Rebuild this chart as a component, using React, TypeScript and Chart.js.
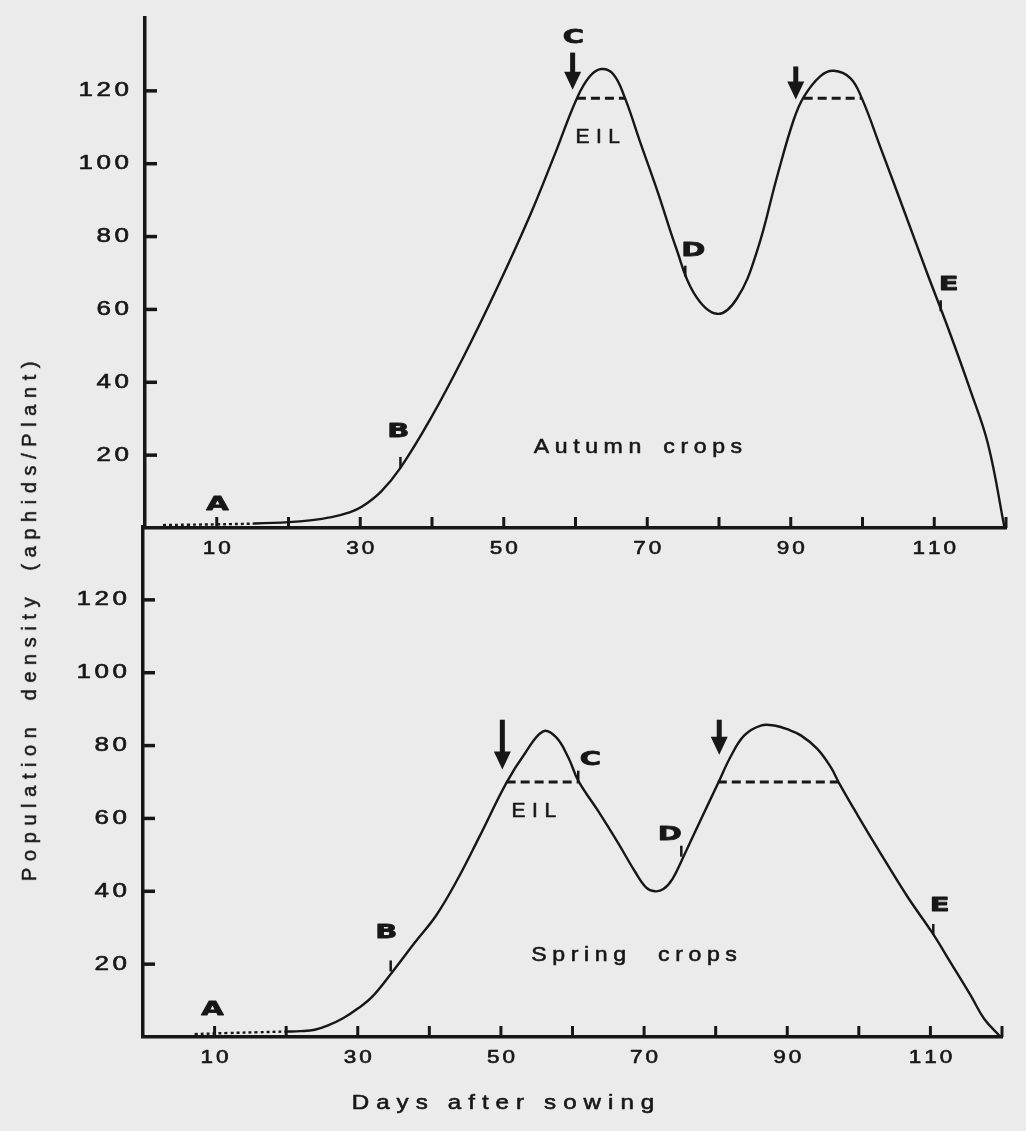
import React, { useEffect, useRef } from "react";
import { Chart, registerables } from "chart.js";

Chart.register(...registerables);

// ---------- data ----------
const X_TICK_MARKS = [10, 20, 30, 40, 50, 60, 70, 80, 90, 100, 110, 120];
const X_TICK_LABELS = [10, 30, 50, 70, 90, 110];
const Y_TICK_LABELS = [20, 40, 60, 80, 100, 120];

const AUTUMN_DAYS = [2.5, 6, 10, 15, 20, 23, 26, 28.5, 30.2, 32.9, 35.6, 39.8, 44.4, 49.1, 53.7, 57, 60.2, 62, 63.6, 65.3, 66.9, 69, 71.5, 74, 76.5, 79.7, 82.5, 85.3, 88.1, 90.4, 91.8, 94.1, 96, 98.3, 99.9, 102.5, 106, 109, 112, 115, 117.5, 119.8];
const AUTUMN_APHIDS = [0.8, 0.9, 1.0, 1.2, 1.6, 2.1, 3.0, 4.3, 5.8, 10, 16.5, 30, 47, 66, 86, 102, 118, 124, 126, 124.5, 118, 106, 92, 77, 64.5, 58.8, 63, 76, 96.5, 112, 118.3, 124, 125.5, 123.5, 118, 104.5, 86, 70, 54.5, 38, 23, 0];
const AUTUMN_DASH_END = 15;
const AUTUMN_EIL = 118;
const AUTUMN_EIL_SPANS = [[60.2, 66.9], [91.8, 99.9]];
const AUTUMN_ARROWS = [[59.6, 130.5, 120.3], [90.7, 126.7, 117.6]]; // day, from, tip
const AUTUMN_MARKS = [[35.6, 18], [75.3, 70.5], [110.9, 61]];
const AUTUMN_LETTERS = ["A", "B", "C", "D", "E"];
const AUTUMN_LETTER_POS = [[10.1, 6.3], [35.3, 26.4], [59.7, 134.6], [76.4, 76], [112, 66.8]];
const AUTUMN_EIL_TEXT_POS = [63.1, 107.3];
const AUTUMN_NAME = "Autumn crops";
const AUTUMN_NAME_POS = [68.7, 22.1];

const SPRING_DAYS = [7.2, 12, 16, 20, 22, 24, 26, 28, 30, 32, 34.7, 38, 41, 44, 47, 50.8, 53.3, 55.9, 57.7, 59.4, 60.8, 63.6, 66.3, 68.7, 70.3, 71.5, 72.7, 74, 75.5, 78, 80.3, 82.1, 84, 86.3, 88.2, 90, 91.9, 94.2, 96.1, 97.3, 99.8, 103.1, 106.8, 110.3, 112.8, 115.6, 117.5, 119.8];
const SPRING_APHIDS = [0.8, 1.1, 1.3, 1.5, 1.6, 2, 3.3, 5.2, 7.8, 11, 17.5, 26, 33.5, 43.5, 55, 69.9, 77.7, 83.9, 82.3, 76.8, 70.4, 62, 53.5, 45.5, 41, 40, 40.6, 43.5, 49.5, 60, 69.5, 77, 82.8, 85.5, 85.5, 84.5, 82.8, 79.1, 74, 69.5, 61, 50.2, 38.5, 28.5, 20.5, 11.5, 5, 0];
const SPRING_DASH_END = 20;
const SPRING_EIL = 70;
const SPRING_EIL_SPANS = [[50.8, 60.8], [80.3, 97.3]];
const SPRING_ARROWS = [[50.2, 87.1, 73.4], [80.5, 87.1, 77.5]];
const SPRING_MARKS = [[34.6, 19.5], [60.8, 71.6], [75.2, 51], [110.4, 29.5]];
const SPRING_LETTERS = ["A", "B", "C", "D", "E"];
const SPRING_LETTER_POS = [[9.7, 7.6], [34, 28.7], [62.5, 76], [73.6, 55.5], [111.3, 36.1]];
const SPRING_EIL_TEXT_POS = [54.6, 62];
const SPRING_NAME = "Spring crops";
const SPRING_NAME_POS = [68.6, 22.5];

const X_TITLE = "Days after sowing";
const Y_TITLE = "Population density (aphids/Plant)";
const EIL_TEXT = "EIL";

// ---------- styling ----------
const INK = "#171717";
const PAPER = "#ebebeb";
const FONT = '"Liberation Sans", Arial, sans-serif';
const BOLD_FONT = '"DejaVu Sans", "Liberation Sans", sans-serif';

type TextOpts = { size: number; sx: number; sp: number; gap?: number; align?: "left" | "center" | "right"; weight?: string; family?: string; stroke?: number };

function spacedText(ctx: CanvasRenderingContext2D, text: string, x: number, y: number, o: TextOpts) {
  ctx.save();
  ctx.font = `${o.weight || "normal"} ${o.size}px ${o.family || FONT}`;
  ctx.textBaseline = "middle";
  ctx.textAlign = "left";
  ctx.fillStyle = INK;
  ctx.strokeStyle = INK;
  ctx.lineJoin = "round";
  const chars = Array.from(text);
  const adv = chars.map((c) => (c === " " ? (o.gap ?? ctx.measureText(" ").width * o.sx) : ctx.measureText(c).width * o.sx));
  let total = 0;
  chars.forEach((c, i) => {
    total += adv[i];
    if (i < chars.length - 1 && c !== " " && chars[i + 1] !== " ") total += o.sp;
  });
  let cx = o.align === "center" ? x - total / 2 : o.align === "right" ? x - total : x;
  chars.forEach((c, i) => {
    if (c !== " ") {
      ctx.save();
      ctx.translate(cx, y);
      ctx.scale(o.sx, 1);
      ctx.fillText(c, 0, 0);
      if (o.stroke) {
        ctx.lineWidth = o.stroke;
        ctx.strokeText(c, 0, 0);
      }
      ctx.restore();
    }
    cx += adv[i];
    if (i < chars.length - 1 && c !== " " && chars[i + 1] !== " ") cx += o.sp;
  });
  ctx.restore();
}

type Panel = {
  days: number[];
  values: number[];
  dashEnd: number;
  eil: number;
  eilSpans: number[][];
  arrows: number[][];
  marks: number[][];
  letters: string[];
  letterPos: number[][];
  eilTextPos: number[];
  name: string;
  namePos: number[];
  nameGap: number;
  xTitle?: string;
};

function makePlugin(p: Panel) {
  return {
    id: "panelDecor",
    afterDraw(chart: any) {
      const ctx: CanvasRenderingContext2D = chart.ctx;
      const xs = chart.scales.x;
      const ys = chart.scales.y;
      const { left, bottom } = chart.chartArea;
      ctx.save();
      ctx.strokeStyle = INK;
      ctx.lineCap = "butt";
      ctx.lineWidth = 3;
      X_TICK_MARKS.forEach((v) => {
        const px = xs.getPixelForValue(v);
        ctx.beginPath();
        ctx.moveTo(px, bottom);
        ctx.lineTo(px, bottom - 11);
        ctx.stroke();
      });
      ctx.lineWidth = 3.5;
      Y_TICK_LABELS.forEach((v) => {
        const py = ys.getPixelForValue(v);
        ctx.beginPath();
        ctx.moveTo(left, py);
        ctx.lineTo(left + 12, py);
        ctx.stroke();
      });
      ctx.restore();

      X_TICK_LABELS.forEach((v) => {
        spacedText(ctx, String(v), xs.getPixelForValue(v), bottom + 21, { size: 18, sx: 1.25, sp: 3, align: "center", stroke: 0.6 });
      });
      Y_TICK_LABELS.forEach((v) => {
        spacedText(ctx, String(v), left - 16, ys.getPixelForValue(v), { size: 20, sx: 1.3, sp: 3.5, align: "right", stroke: 0.6 });
      });

      ctx.save();
      ctx.fillStyle = INK;
      p.arrows.forEach(([d, from, tip]) => {
        const x = xs.getPixelForValue(d);
        const y0 = ys.getPixelForValue(from);
        const y1 = ys.getPixelForValue(tip);
        const headH = 18;
        const headW = 17;
        const shaft = 5;
        ctx.fillRect(x - shaft / 2, y0, shaft, y1 - headH - y0 + 1);
        ctx.beginPath();
        ctx.moveTo(x - headW / 2, y1 - headH);
        ctx.lineTo(x + headW / 2, y1 - headH);
        ctx.lineTo(x, y1);
        ctx.closePath();
        ctx.fill();
      });
      ctx.restore();

      p.letters.forEach((t, i) => {
        const [d, v] = p.letterPos[i];
        spacedText(ctx, t, xs.getPixelForValue(d), ys.getPixelForValue(v), { size: 20, sx: 1.45, sp: 0, align: "center", weight: "bold", family: BOLD_FONT, stroke: 0.8 });
      });
      spacedText(ctx, EIL_TEXT, xs.getPixelForValue(p.eilTextPos[0]), ys.getPixelForValue(p.eilTextPos[1]), { size: 21, sx: 1.0, sp: 6.5, align: "center", stroke: 0.6 });
      spacedText(ctx, p.name, xs.getPixelForValue(p.namePos[0]), ys.getPixelForValue(p.namePos[1]), { size: 21, sx: 1.1, sp: 5.6, gap: p.nameGap, align: "center", stroke: 0.6 });
      if (p.xTitle) {
        spacedText(ctx, p.xTitle, left + 360, bottom + 66, { size: 21, sx: 1.15, sp: 7, gap: 20, align: "center", stroke: 0.6 });
      }
    },
  };
}

function PanelChart({ panel, top, height, padding }: { panel: Panel; top: number; height: number; padding: { left: number; right: number; top: number; bottom: number } }) {
  const ref = useRef<HTMLCanvasElement | null>(null);
  useEffect(() => {
    if (!ref.current) return;
    const curve = panel.days.map((d, i) => ({ x: d, y: panel.values[i] }));
    const eilSets = panel.eilSpans.map(([a, b]) => ({
      type: "line" as const,
      data: [{ x: a, y: panel.eil }, { x: b, y: panel.eil }],
      borderColor: INK,
      borderWidth: 3,
      borderDash: [9, 5],
      pointRadius: 0,
      tension: 0,
    }));
    const chart = new Chart(ref.current, {
      type: "line",
      data: {
        datasets: [
          {
            data: curve,
            borderColor: INK,
            borderWidth: 2.4,
            pointRadius: 0,
            tension: 0.4,
            clip: false,
            segment: {
              borderDash: (c: any) => (c.p1.parsed.x <= panel.dashEnd + 0.01 ? [3, 3] : undefined),
            },
          } as any,
          ...eilSets,
          {
            data: panel.marks.map(([d, v]) => ({ x: d, y: v })),
            showLine: false,
            pointStyle: "line",
            rotation: 90,
            pointRadius: 5.5,
            pointBorderWidth: 2.5,
            pointBorderColor: INK,
            pointBackgroundColor: INK,
            clip: false,
          } as any,
        ],
      },
      options: {
        animation: false,
        responsive: false,
        devicePixelRatio: 1,
        layout: { padding },
        plugins: { legend: { display: false }, tooltip: { enabled: false }, title: { display: false } },
        events: [],
        scales: {
          x: {
            type: "linear",
            min: 0,
            max: 120,
            grid: { display: false },
            ticks: { display: false, stepSize: 10 },
            border: { display: true, color: INK, width: 3.5 },
            afterFit: (s: any) => {
              s.height = 0;
            },
          },
          y: {
            type: "linear",
            min: 0,
            max: 140,
            grid: { display: false },
            ticks: { display: false, stepSize: 20 },
            border: { display: true, color: INK, width: 3.5 },
            afterFit: (s: any) => {
              s.width = 0;
            },
          },
        },
      } as any,
      plugins: [makePlugin(panel)],
    });
    return () => chart.destroy();
  }, [panel, height, padding]);
  return (
    <canvas
      ref={ref}
      width={1026}
      height={height}
      style={{ position: "absolute", left: 0, top, width: 1026, height }}
    />
  );
}

const AUTUMN_PANEL: Panel = {
  days: AUTUMN_DAYS,
  values: AUTUMN_APHIDS,
  dashEnd: AUTUMN_DASH_END,
  eil: AUTUMN_EIL,
  eilSpans: AUTUMN_EIL_SPANS,
  arrows: AUTUMN_ARROWS,
  marks: AUTUMN_MARKS,
  letters: AUTUMN_LETTERS,
  letterPos: AUTUMN_LETTER_POS,
  eilTextPos: AUTUMN_EIL_TEXT_POS,
  name: AUTUMN_NAME,
  namePos: AUTUMN_NAME_POS,
  nameGap: 22,
};

const SPRING_PANEL: Panel = {
  days: SPRING_DAYS,
  values: SPRING_APHIDS,
  dashEnd: SPRING_DASH_END,
  eil: SPRING_EIL,
  eilSpans: SPRING_EIL_SPANS,
  arrows: SPRING_ARROWS,
  marks: SPRING_MARKS,
  letters: SPRING_LETTERS,
  letterPos: SPRING_LETTER_POS,
  eilTextPos: SPRING_EIL_TEXT_POS,
  name: SPRING_NAME,
  namePos: SPRING_NAME_POS,
  nameGap: 32,
  xTitle: X_TITLE,
};

const TOP_PAD = { left: 145, right: 20, top: 18, bottom: 72 };
const BOTTOM_PAD = { left: 143, right: 24, top: 27, bottom: 94 };

export default function App() {
  return (
    <div style={{ position: "absolute", left: 0, top: 0, width: 1026, height: 1131, background: PAPER, overflow: "hidden" }}>
      <PanelChart panel={AUTUMN_PANEL} top={0} height={600} padding={TOP_PAD} />
      <PanelChart panel={SPRING_PANEL} top={500} height={631} padding={BOTTOM_PAD} />
      <div
        style={{
          position: "absolute",
          left: 29,
          top: 618,
          transform: "translate(-50%, -50%) rotate(-90deg)",
          whiteSpace: "pre",
          fontFamily: FONT,
          fontSize: 20,
          letterSpacing: "6.6px",
          wordSpacing: "8px",
          color: INK,
          lineHeight: 1,
          WebkitTextStroke: "0.5px #171717",
        }}
      >
        {Y_TITLE}
      </div>
    </div>
  );
}
